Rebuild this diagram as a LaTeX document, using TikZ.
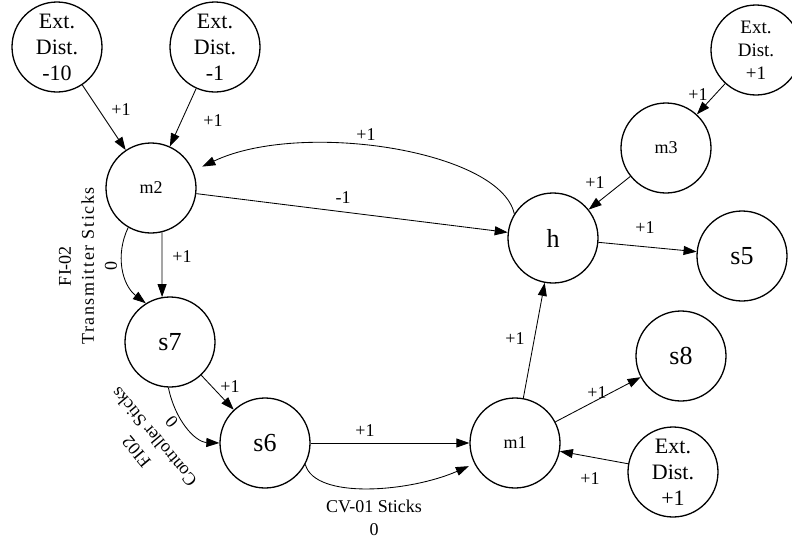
\documentclass[tikz,border=0pt]{standalone}
\usepackage{fontspec}
\setmainfont{Liberation Serif}
\newfontfamily\widespaced[LetterSpace=9]{Liberation Serif}
\usetikzlibrary{arrows.meta}
\begin{document}
\begin{tikzpicture}[x=1pt,y=-1pt,
  state/.style={circle,draw,line width=1.3pt,minimum size=90pt,inner sep=0pt,align=center},
  big/.style={state,font=\fontsize{26}{30}\selectfont},
  mid/.style={state,font=\fontsize{18}{22}\selectfont},
  ext/.style={state,font=\fontsize{22}{26}\selectfont},
  extsmall/.style={state,font=\fontsize{19}{23}\selectfont},
  link/.style={line width=0.85pt,-{Triangle[length=13pt,width=9pt]}},
  lbl/.style={font=\fontsize{18}{23}\selectfont,inner sep=0pt,align=center},
]
\useasboundingbox (0,0) rectangle (792,541);

% states
\node[ext] (e10) at (57,47) {Ext.\\Dist.\\-10};
\node[ext] (e1) at (215,47) {Ext.\\Dist.\\-1};
\node[extsmall] (e3) at (756,50) {Ext.\\Dist.\\+1};
\node[mid] (m2) at (151,188) {m2};
\node[mid] (m3) at (666,148) {m3};
\node[big] (h) at (553,238) {h};
\node[big] (s5) at (742,256) {s5};
\node[big] (s7) at (170,342) {s7};
\node[big] (s8) at (681,356) {s8};
\node[big] (s6) at (265,443) {s6};
\node[mid] (m1) at (515,443) {m1};
\node[ext] (e4) at (673,472) {Ext.\\Dist.\\+1};

% straight influences
\draw[link] (e10) -- (m2);
\draw[link] (e1) -- (m2);
\draw[link] (m2) -- (h);
\draw[link] (m2.-76) -- (s7.100);
\draw[link] (s7) -- (s6);
\draw[link] (s6) -- (m1);
\draw[link] (m1) -- (h);
\draw[link] (m1) -- (s8);
\draw[link] (e4) -- (m1);
\draw[link] (h) -- (s5);
\draw[link] (m3) -- (h);
\draw[link] (e3) -- (m3);

% curved influences
\draw[link,shorten >=10pt] (h.148) .. controls (500,150) and (300,120) .. (m2.22);
\draw[link] (m2.240) .. controls (115,255) and (122,285) .. (s7.122);
\draw[link] (s7.268) .. controls (175,420) and (195,442) .. (s6.180);
\draw[link,shorten >=6pt] (s6.-28) .. controls (315,500) and (410,492) .. (m1.207);

% edge labels
\node[lbl] (l1) at (121,110) {+1};
\node[lbl] (l2) at (213,121) {+1};
\node[lbl] (l3) at (366,135) {+1};
\node[lbl] (l4) at (343,198) {-1};
\node[lbl] (l5) at (182,257) {+1};
\node[lbl] (l6) at (230,387) {+1};
\node[lbl] (l7) at (365,431) {+1};
\node[lbl] (l8) at (374,518) {CV-01 Sticks\\0};
\node[lbl] (l9) at (515,339) {+1};
\node[lbl] (l10) at (597,393) {+1};
\node[lbl] (l11) at (590,479) {+1};
\node[lbl] (l12) at (645,228) {+1};
\node[lbl] (l13) at (595,183) {+1};
\node[lbl] (l14) at (698,95) {+1};
\node[lbl,rotate=90] (l15) at (88,266) {FI-02\\{\widespaced Transmitter Sticks}\\0};
\node[lbl,rotate=130] (l16) at (154,437) {FI02\\Controller Sticks\\0};
\end{tikzpicture}
\end{document}
